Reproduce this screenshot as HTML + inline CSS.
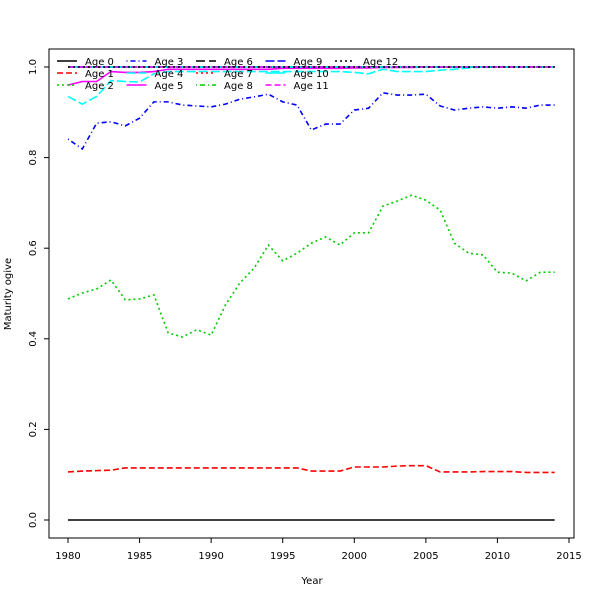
<!DOCTYPE html>
<html><head><meta charset="utf-8"><style>
body{margin:0;background:#fff}
svg{display:block;font-family:"DejaVu Sans","Liberation Sans",sans-serif}
</style></head><body>
<svg id="chart" width="600" height="600">
<rect x="0" y="0" width="600" height="600" fill="#fff"/>
<rect x="49" y="49" width="525" height="489" fill="none" stroke="#000" stroke-width="1"/>
<g id="axes"></g><g id="series"></g><g id="legend"></g>
<text x="312" y="584" font-size="10" text-anchor="middle">Year</text>
<text x="11" y="294" font-size="10" text-anchor="middle" transform="rotate(-90 11 294)">Maturity ogive</text>
</svg>
<script>
const years=[];for(let y=1980;y<=2014;y++)years.push(y);
const xTicks=[1980,1985,1990,1995,2000,2005,2010,2015];
const yTicks=[0,0.2,0.4,0.6,0.8,1.0];
const age0=Array(35).fill(0);
const age1=[0.106,0.108,0.109,0.11,0.115,0.115,0.115,0.115,0.115,0.115,0.115,0.115,0.115,0.115,0.115,0.115,0.115,0.108,0.108,0.108,0.117,0.117,0.117,0.119,0.12,0.12,0.106,0.106,0.106,0.107,0.107,0.107,0.105,0.105,0.105];
const age2=[0.488,0.501,0.51,0.53,0.486,0.488,0.497,0.413,0.404,0.42,0.408,0.475,0.523,0.556,0.607,0.572,0.589,0.611,0.625,0.607,0.634,0.634,0.693,0.704,0.717,0.706,0.684,0.611,0.589,0.585,0.547,0.545,0.528,0.547,0.547];
const age3=[0.841,0.819,0.876,0.879,0.870,0.887,0.923,0.923,0.916,0.914,0.912,0.918,0.929,0.934,0.940,0.923,0.916,0.861,0.874,0.874,0.905,0.909,0.943,0.938,0.938,0.94,0.914,0.905,0.909,0.912,0.909,0.912,0.909,0.916,0.916];
const age4=[0.935,0.918,0.935,0.97,0.968,0.967,0.985,0.99,0.99,0.99,0.99,0.99,0.99,0.99,0.99,0.99,0.99,0.99,0.99,0.99,0.988,0.985,0.995,0.99,0.99,0.99,0.993,0.995,0.998,1,1,1,1,1,1];
const age5=[0.96,0.968,0.968,0.99,0.988,0.988,0.99,0.995,0.995,0.995,0.995,0.995,0.995,0.995,0.995,0.997,0.997,0.997,0.997,0.997,0.998,0.998,0.999,0.999,0.999,1,1,1,1,1,1,1,1,1,1];
const ageHigh=Array(35).fill(1);
const styles=[
 ["Age 0","#000","",ageHigh&&age0],["Age 1","#f00","6,3",age1],["Age 2","#0c0","2,3",age2],
 ["Age 3","#00f","1,3,5,3",age3],["Age 4","#0ff","9,3",age4],["Age 5","#f0f","",age5],
 ["Age 6","#000","9,4",ageHigh],["Age 7","#f00","2,3",ageHigh],["Age 8","#0c0","1,3,5,3",ageHigh],
 ["Age 9","#00f","9,3",ageHigh],["Age 10","#0ff","",ageHigh],["Age 11","#f0f","6,3",ageHigh],["Age 12","#000","2,3",ageHigh]];
const NS="http://www.w3.org/2000/svg";
const sx=v=>68+(v-1980)*(501/35);
const sy=v=>520-v*453;
function mk(t,a,p){const e=document.createElementNS(NS,t);for(const k in a)e.setAttribute(k,a[k]);p.appendChild(e);return e;}
const ax=document.getElementById('axes');
xTicks.forEach(t=>{const g=mk('g',{},ax);
 
 
 mk('line',{x1:sx(t),x2:sx(t),y1:538,y2:543,stroke:'#000'},g);
 const tx=mk('text',{x:sx(t),y:559,'font-size':10,'text-anchor':'middle'},g);tx.textContent=t;});
yTicks.forEach(t=>{const g=mk('g',{},ax);
 
 
 mk('line',{x1:44,x2:49,y1:sy(t),y2:sy(t),stroke:'#000'},g);
 const tx=mk('text',{x:36,y:sy(t),'font-size':10,'text-anchor':'middle',transform:`rotate(-90 36 ${sy(t)})`},g);tx.textContent=t.toFixed(1);});
const se=document.getElementById('series');
styles.forEach(s=>{
 const p=mk('polyline',{points:s[3].map((v,i)=>sx(years[i])+','+sy(v)).join(' '),fill:'none',stroke:s[1],'stroke-width':1.6,'stroke-dasharray':s[2]},se);
 
 
});
const lg=document.getElementById('legend');
styles.forEach((s,i)=>{const c=Math.floor(i/3),r=i%3;
 const x=57+c*69.5,y=61+r*12;
 const g=mk('g',{},lg);
 
 
 mk('line',{x1:x,x2:x+20,y1:y,y2:y,stroke:s[1],'stroke-width':1.6,'stroke-dasharray':s[2]},g);
 const t=mk('text',{x:x+28,y:y+4,'font-size':10},g);t.textContent=s[0];});
</script>
</body></html>
